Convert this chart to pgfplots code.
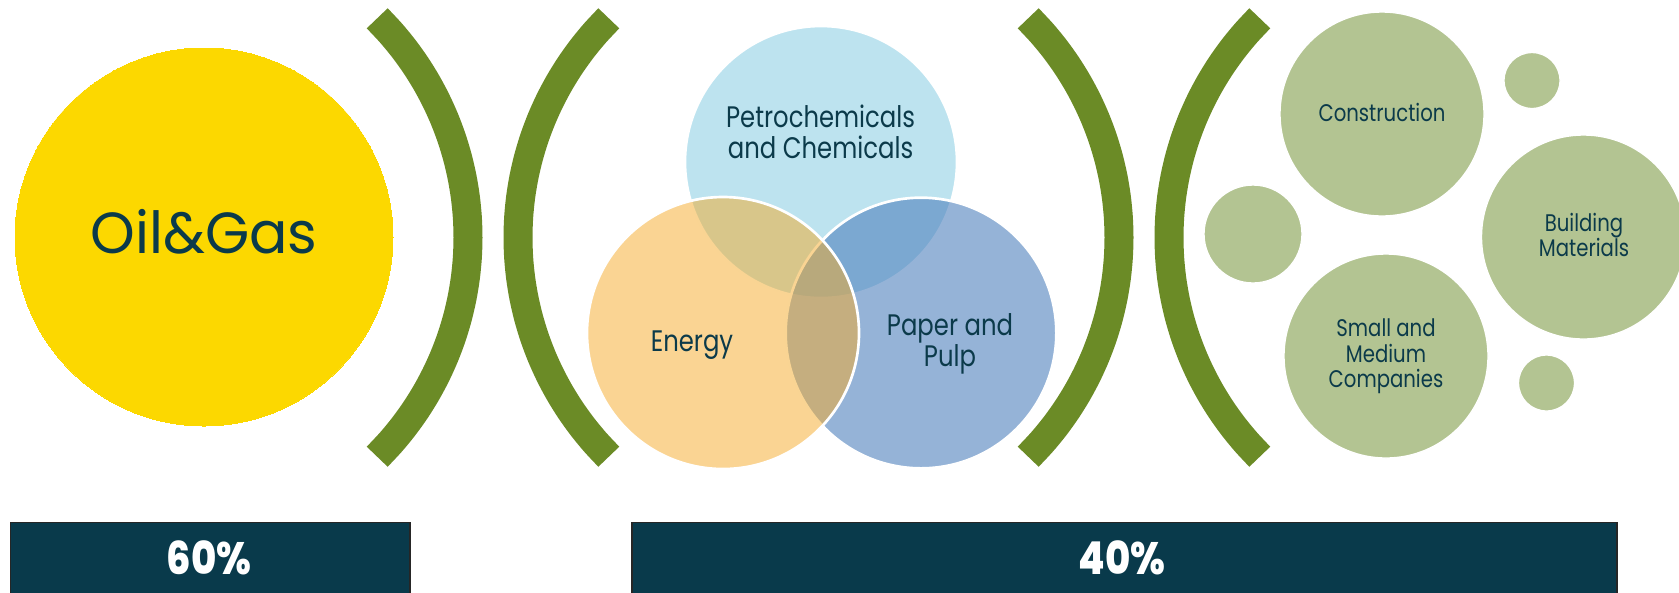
\documentclass[border=0pt]{standalone}
\usepackage{pgfplots}
\usepackage{pgfplotstable}
\pgfplotsset{compat=1.18}
\usepackage{fontspec}
\setmainfont{Poppins}
\newfontfamily\lab{Poppins}[FakeStretch=0.82]
\newfontfamily\labw{Poppins}[FakeStretch=0.98]
\newfontfamily\labb{Poppins}[FakeStretch=0.85,UprightFont=* Medium]
\definecolor{arcg}{RGB}{107,139,38}
\definecolor{yel}{RGB}{252,216,0}
\definecolor{tblue}{RGB}{90,185,215}
\definecolor{pblue}{RGB}{79,129,189}
\definecolor{orng}{RGB}{245,170,40}
\definecolor{bub}{RGB}{179,196,146}
\definecolor{txt}{RGB}{11,58,74}
\definecolor{boxc}{RGB}{9,58,75}
\pgfplotstableread{
c y
219.20 18.3
233.07 33.1
245.94 48.78
257.76 65.27
268.47 82.5
278.03 100.39
286.40 118.87
293.55 137.85
299.44 157.27
304.04 177.02
307.35 197.04
309.34 217.23
310.00 237.5
309.34 257.77
307.35 277.96
304.04 297.98
299.44 317.73
293.55 337.15
286.40 356.13
278.03 374.61
268.47 392.5
257.76 409.73
245.94 426.22
233.07 441.9
219.20 456.7
}\arcpts
\pgfplotsset{base/.style={hide axis, scale only axis, x=0.3pt, y=0.3pt,
  xmin=0, xmax=1679, ymin=0, ymax=592, y dir=reverse,
  anchor=south west, at={(0,0)}}}
\begin{document}
\begin{tikzpicture}
\path[use as bounding box] (0,0) rectangle (503.7pt,177.6pt);
\begin{axis}[base]
% bottom boxes
\addplot[fill=boxc, draw=black!85, line width=0.4pt] coordinates {(10.7,522.5) (410,522.5) (410,600) (10.7,600)} -- cycle;
\addplot[fill=boxc, draw=black!85, line width=0.4pt] coordinates {(632,522.5) (1617,522.5) (1617,600) (632,600)} -- cycle;
% arcs
\addplot[arcg, line width=8.7pt, smooth] table[x expr=158+\thisrow{c}, y=y] {\arcpts};
\addplot[arcg, line width=8.7pt, smooth] table[x expr=828-\thisrow{c}, y=y] {\arcpts};
\addplot[arcg, line width=8.7pt, smooth] table[x expr=809+\thisrow{c}, y=y] {\arcpts};
\addplot[arcg, line width=8.7pt, smooth] table[x expr=1479-\thisrow{c}, y=y] {\arcpts};
% yellow circle
\addplot[yel, only marks, mark=*, mark size=56.7pt, mark options={fill=yel, draw=yel, line width=0pt}] coordinates {(204,237)};
% Venn
\addplot[white, only marks, mark=*, mark size=40.8pt, mark options={fill=tblue, fill opacity=0.4, draw=white, line width=0.8pt}] coordinates {(821,162)};
\addplot[white, only marks, mark=*, mark size=40.6pt, mark options={fill=pblue, fill opacity=0.6, draw=white, line width=0.8pt}] coordinates {(921,333)};
\addplot[white, only marks, mark=*, mark size=40.8pt, mark options={fill=orng, fill opacity=0.5, draw=white, line width=0.8pt}] coordinates {(723,333)};
% bubbles
\addplot[white, only marks, mark=*, mark size=30.6pt, mark options={fill=bub, draw=white, line width=0.4pt}] coordinates {(1382,114) (1386,356) (1583.5,237)};
\addplot[white, only marks, mark=*, mark size=14.7pt, mark options={fill=bub, draw=white, line width=0.4pt}] coordinates {(1253,234)};
\addplot[white, only marks, mark=*, mark size=8.4pt, mark options={fill=bub, draw=white, line width=0.4pt}] coordinates {(1532,80.5) (1546.5,383)};
\end{axis}
\begin{axis}[base]
\addplot[draw=none] coordinates {(0,0) (1679,592)};
\node[anchor=base, text=txt, font=\fontsize{17.4}{20}\selectfont\labw] at (axis cs:204,253) {Oil\&Gas};
\begin{scope}[every node/.style={anchor=base, text=txt, font=\fontsize{8.9}{10}\selectfont\lab}]
\node at (axis cs:820.6,127.3) {Petrochemicals};
\node at (axis cs:820.6,158.3) {and Chemicals};
\node at (axis cs:692,351.7) {Energy};
\node at (axis cs:950,335) {Paper and};
\node at (axis cs:950,366.7) {Pulp};
\end{scope}
\begin{scope}[every node/.style={anchor=base, text=txt, font=\fontsize{7.2}{9}\selectfont\lab}]
\node at (axis cs:1382,121.7) {Construction};
\node at (axis cs:1584,231) {Building};
\node at (axis cs:1584,256.7) {Materials};
\node at (axis cs:1386,336.7) {Small and};
\node at (axis cs:1386,362.3) {Medium};
\node at (axis cs:1386,387.7) {Companies};
\end{scope}
\node[anchor=base, text=white, font=\fontsize{13.6}{15}\selectfont\bfseries\labb] at (axis cs:209,574) {60\%};
\node[anchor=base, text=white, font=\fontsize{13.6}{15}\selectfont\bfseries\labb] at (axis cs:1122,574) {40\%};
\end{axis}
\end{tikzpicture}
\end{document}
